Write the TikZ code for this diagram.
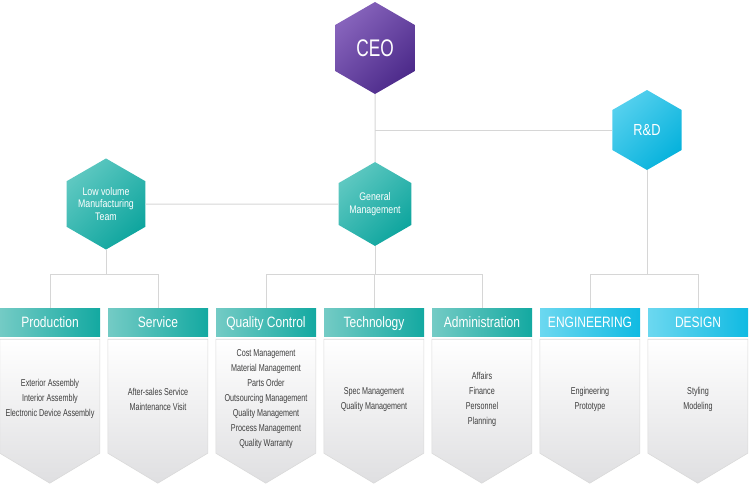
\documentclass[tikz,border=0pt]{standalone}
\usepackage{fontspec}
\newfontfamily\condfont{Liberation Sans}[FakeStretch=0.8]
\newfontfamily\narrowfont{Liberation Sans}[FakeStretch=0.72]
\usepackage{tikz}
\usetikzlibrary{shapes.geometric}
\definecolor{ceolight}{HTML}{8764BC}
\definecolor{ceodark}{HTML}{4C2A8A}
\definecolor{teallight}{HTML}{5EC8C1}
\definecolor{tealdark}{HTML}{0EA59E}
\definecolor{cyanlight}{HTML}{55D0EE}
\definecolor{cyandark}{HTML}{06B2DC}
\definecolor{headteallight}{HTML}{74CBC5}
\definecolor{headtealdark}{HTML}{13A9A1}
\definecolor{headcyanlight}{HTML}{6CD8F0}
\definecolor{headcyandark}{HTML}{10BAE2}
\definecolor{bodyline}{HTML}{DADADA}
\definecolor{bodyshade}{HTML}{DFDFE1}
\definecolor{itemgray}{HTML}{3E3E3E}
\definecolor{linkgray}{HTML}{D6D6D6}

\begin{document}
\begin{tikzpicture}[
        x=1pt, y=-1pt,
        hexa/.style={
            shape=regular polygon, regular polygon sides=6, regular polygon rotate=30,
            minimum size=78pt, inner sep=0pt, align=center, text=white,
            font=\condfont\fontsize{11}{12.5}\selectfont
        },
        ceohex/.style={hexa, minimum size=92pt, top color=ceolight, bottom color=ceodark,
            shading angle=45, font=\narrowfont\fontsize{24}{24}\selectfont},
        tealhex/.style={hexa, top color=teallight, bottom color=tealdark, shading angle=45},
        cyanhex/.style={hexa, minimum size=80pt, top color=cyanlight, bottom color=cyandark,
            shading angle=45, font=\condfont\fontsize{16}{16}\selectfont},
        head/.style={
            rectangle, minimum width=100pt, minimum height=28pt, inner sep=0pt,
            text=white, font=\condfont\fontsize{15}{15}\selectfont,
            text height=14pt, text depth=3pt
        },
        tealhead/.style={head, left color=headteallight, right color=headtealdark},
        cyanhead/.style={head, left color=headcyanlight, right color=headcyandark},
        body/.style={draw=bodyline, line width=0.6pt, top color=white, bottom color=bodyshade},
        items/.style={align=center, font=\narrowfont\fontsize{10}{15}\selectfont, text=itemgray},
        link/.style={draw=linkgray, line width=1pt}
    ]
    \useasboundingbox (0,0) rectangle (750,483);

    % === Hexagons ===
    \node[ceohex] (ceo) at (375,48) {CEO};
    \node[cyanhex] (rd) at (647,130) {R\&D};
    \node[tealhex] (lv) at (106,204) {Low volume\\Manufacturing\\Team};
    \node[tealhex] (gm) at (375,204) {General\\Management};

    % === Production ===
    \node[tealhead] (prod) at (50,322) {Production};
    \draw[body] ([yshift=-3pt]prod.south west) -- ++(100,0) -- ++(0,114) -- ++(-50,30) -- ++(-50,-30) -- cycle;
    \node[items] (prodtxt) at ([yshift=-63pt]prod.south) {Exterior Assembly\\Interior Assembly\\Electronic Device Assembly};

    % === Service ===
    \node[tealhead] (serv) at (158,322) {Service};
    \draw[body] ([yshift=-3pt]serv.south west) -- ++(100,0) -- ++(0,114) -- ++(-50,30) -- ++(-50,-30) -- cycle;
    \node[items] (servtxt) at ([yshift=-63pt]serv.south) {After-sales Service\\Maintenance Visit};

    % === Quality Control ===
    \node[tealhead] (qc) at (266,322) {Quality Control};
    \draw[body] ([yshift=-3pt]qc.south west) -- ++(100,0) -- ++(0,114) -- ++(-50,30) -- ++(-50,-30) -- cycle;
    \node[items] (qctxt) at ([yshift=-63pt]qc.south) {Cost Management\\Material Management\\Parts Order\\Outsourcing Management\\Quality Management\\Process Management\\Quality Warranty};

    % === Technology ===
    \node[tealhead] (tech) at (374,322) {Technology};
    \draw[body] ([yshift=-3pt]tech.south west) -- ++(100,0) -- ++(0,114) -- ++(-50,30) -- ++(-50,-30) -- cycle;
    \node[items] (techtxt) at ([yshift=-63pt]tech.south) {Spec Management\\Quality Management};

    % === Administration ===
    \node[tealhead] (adm) at (482,322) {Administration};
    \draw[body] ([yshift=-3pt]adm.south west) -- ++(100,0) -- ++(0,114) -- ++(-50,30) -- ++(-50,-30) -- cycle;
    \node[items] (admtxt) at ([yshift=-63pt]adm.south) {Affairs\\Finance\\Personnel\\Planning};

    % === ENGINEERING ===
    \node[cyanhead] (eng) at (590,322) {ENGINEERING};
    \draw[body] ([yshift=-3pt]eng.south west) -- ++(100,0) -- ++(0,114) -- ++(-50,30) -- ++(-50,-30) -- cycle;
    \node[items] (engtxt) at ([yshift=-63pt]eng.south) {Engineering\\Prototype};

    % === DESIGN ===
    \node[cyanhead] (des) at (698,322) {DESIGN};
    \draw[body] ([yshift=-3pt]des.south west) -- ++(100,0) -- ++(0,114) -- ++(-50,30) -- ++(-50,-30) -- cycle;
    \node[items] (destxt) at ([yshift=-63pt]des.south) {Styling\\Modeling};

    % === Links ===
    \draw[link] (ceo.south) -- (gm.north);
    \draw[link] (rd.west) -- (rd.west -| ceo.south);
    \draw[link] (gm.west) -- (lv.east);
    \draw[link] (prod.north) -- ++(0,-33) coordinate (produp) -| (serv.north);
    \draw[link] (lv.south) -- (lv.south |- produp);
    \draw[link] (qc.north) -- ++(0,-33) coordinate (qcup) -| (adm.north);
    \draw[link] (gm.south) -- (gm.south |- qcup);
    \draw[link] (tech.north) -- (tech.north |- qcup);
    \draw[link] (eng.north) -- ++(0,-33) coordinate (engup) -| (des.north);
    \draw[link] (rd.south) -- (rd.south |- engup);

\end{tikzpicture}
\end{document}
